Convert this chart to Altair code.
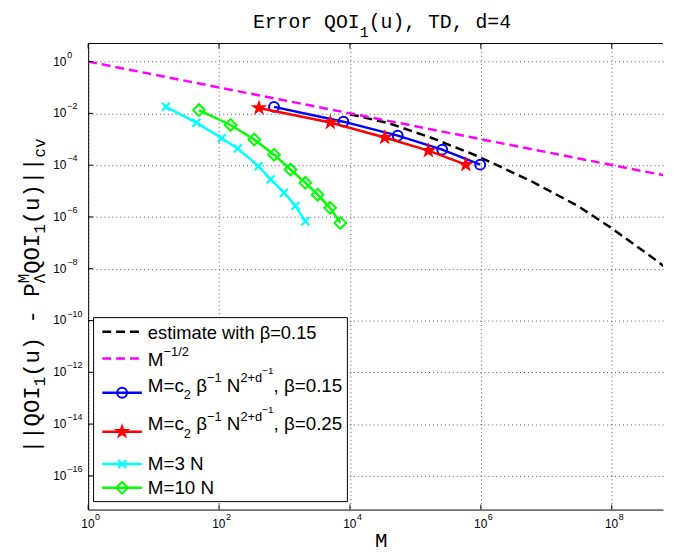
import altair as alt
import pandas as pd

# ---------------- data ----------------
est_M = [1.0e4, 4.0e4, 1.82e5, 9.1e5, 5.9e6, 3.0e7, 9.5e7, 4.8e8, 6.8e8]
est_E = [9.3e-3, 4.1e-3, 1.1e-3, 2.19e-4, 2.4e-5, 2.7e-6, 4.0e-7, 2.1e-8, 1.05e-8]
ref_M = [1.0, 6.8e8]
ref_E = [1.0, 3.9e-5]
b15_M = [692, 7940, 53700, 257000, 977000]
b15_E = [1.78e-2, 4.79e-3, 1.38e-3, 3.98e-4, 1.05e-4]
b25_M = [407, 5010, 33900, 158000, 589000]
b25_E = [1.62e-2, 4.47e-3, 1.17e-3, 3.63e-4, 1.05e-4]
m3_M = [15.4, 45.2, 110, 193, 401, 615, 982, 1469, 2080]
m3_E = [1.79e-2, 4.38e-3, 1.10e-3, 4.43e-4, 9.06e-5, 2.81e-5, 8.65e-6, 2.68e-6, 6.85e-7]
m10_M = [49.2, 150, 345, 692, 1233, 2080, 3206, 4966, 7129]
m10_E = [1.34e-2, 3.57e-3, 9.8e-4, 2.54e-4, 6.79e-5, 2.08e-5, 7.26e-6, 2.25e-6, 5.9e-7]

x_ticks = [1e0, 1e2, 1e4, 1e6, 1e8]
x_exps = ["0", "2", "4", "6", "8"]
y_ticks = [1e0, 1e-2, 1e-4, 1e-6, 1e-8, 1e-10, 1e-12, 1e-14, 1e-16]
y_exps = ["0", "\u22122", "\u22124", "\u22126", "\u22128", "\u221210", "\u221212", "\u221214", "\u221216"]

# ---------------- layout ----------------
W, H = 581, 471
X_DOM = [1.0, 6.07e8]
Y_DOM = [5e-18, 5.0]
MONO = "Liberation Mono"
SANS = "Liberation Sans"

xscale = alt.Scale(type="log", domain=X_DOM, nice=False)
yscale = alt.Scale(type="log", domain=Y_DOM, nice=False)
gkw = dict(labels=False, ticks=False, title=None, grid=True, gridDash=[1, 3],
           gridColor="#555555", gridWidth=1, domain=True, domainColor="black",
           domainWidth=1)
xaxis = alt.Axis(values=x_ticks, **gkw)
yaxis = alt.Axis(values=y_ticks, **gkw)


def X(f="M"):
    return alt.X(f"{f}:Q", scale=xscale, axis=xaxis)


def Y(f="E"):
    return alt.Y(f"{f}:Q", scale=yscale, axis=yaxis)


PX = alt.X("px:Q", scale=None, axis=None)
PY = alt.Y("py:Q", scale=None, axis=None)
one = pd.DataFrame({"a": [0]})

STAR = ("M0,-1L0.2245,-0.309L0.951,-0.309L0.363,0.118L0.588,0.809L0,0.382"
        "L-0.588,0.809L-0.363,0.118L-0.951,-0.309L-0.2245,-0.309Z")
XSHAPE = "M-1,-1L1,1M-1,1L1,-1"
STAR_SIZE = 300


def sdf(m, e):
    return pd.DataFrame({"M": m, "E": e})


layers = []
# series lines
layers.append(alt.Chart(sdf(est_M, est_E)).mark_line(color="black", strokeWidth=2.5, strokeDash=[9, 5], clip=True).encode(x=X(), y=Y()))
layers.append(alt.Chart(sdf(ref_M, ref_E)).mark_line(color="#ff00ff", strokeWidth=2.5, strokeDash=[9, 5], clip=True).encode(x=X(), y=Y()))
layers.append(alt.Chart(sdf(b15_M, b15_E)).mark_line(color="#0000ff", strokeWidth=2.5).encode(x=X(), y=Y()))
layers.append(alt.Chart(sdf(b15_M, b15_E)).mark_point(shape="circle", size=100, filled=False, color="#0000ff", strokeWidth=2, opacity=1).encode(x=X(), y=Y()))
layers.append(alt.Chart(sdf(b25_M, b25_E)).mark_line(color="#ff0000", strokeWidth=2.5).encode(x=X(), y=Y()))
layers.append(alt.Chart(sdf(b25_M, b25_E)).mark_point(shape=STAR, size=STAR_SIZE, filled=True, color="#ff0000", opacity=1).encode(x=X(), y=Y()))
layers.append(alt.Chart(sdf(m3_M, m3_E)).mark_line(color="#00ffff", strokeWidth=2.5).encode(x=X(), y=Y()))
layers.append(alt.Chart(sdf(m3_M, m3_E)).mark_point(shape=XSHAPE, size=64, filled=False, color="#00ffff", strokeWidth=2.2, opacity=1).encode(x=X(), y=Y()))
layers.append(alt.Chart(sdf(m10_M, m10_E)).mark_line(color="#00ff00", strokeWidth=2.5).encode(x=X(), y=Y()))
layers.append(alt.Chart(sdf(m10_M, m10_E)).mark_point(shape="diamond", size=140, filled=False, color="#00ff00", strokeWidth=2, opacity=1).encode(x=X(), y=Y()))

# frame and inward ticks
layers.append(alt.Chart(one).mark_rule(color="black", strokeWidth=1).encode(x=alt.value(0), x2=alt.value(W), y=alt.value(0)))
ytk = pd.DataFrame({"t": y_ticks, "e": y_exps})
xtk = pd.DataFrame({"t": x_ticks, "e": x_exps})
layers.append(alt.Chart(ytk).mark_rule(color="black", strokeWidth=1).encode(y=Y("t"), x=alt.value(0), x2=alt.value(5)))
layers.append(alt.Chart(xtk).mark_rule(color="black", strokeWidth=1).encode(x=X("t"), y=alt.value(H), y2=alt.value(H - 5)))
layers.append(alt.Chart(xtk).mark_rule(color="black", strokeWidth=1).encode(x=X("t"), y=alt.value(0), y2=alt.value(5)))

# tick labels 10^k
layers.append(alt.Chart(xtk).mark_text(font=SANS, fontSize=12, align="right", baseline="middle", dx=6.5).encode(x=X("t"), y=alt.value(486), text=alt.value("10")))
layers.append(alt.Chart(xtk).mark_text(font=SANS, fontSize=9, align="left", baseline="middle", dx=7).encode(x=X("t"), y=alt.value(479), text="e:N"))
layers.append(alt.Chart(ytk).mark_text(font=SANS, fontSize=12, align="right", baseline="middle").encode(y=Y("t"), x=alt.value(-22), text=alt.value("10")))
layers.append(alt.Chart(ytk).mark_text(font=SANS, fontSize=9, align="left", baseline="middle", dy=-7).encode(y=Y("t"), x=alt.value(-21), text="e:N"))

# legend box
LX0, LX1, LY0, LY1 = 5.5, 262, 277, 463
layers.append(alt.Chart(one).mark_rect(fill="white", stroke="black", strokeWidth=1).encode(x=alt.value(LX0), x2=alt.value(LX1), y=alt.value(LY0), y2=alt.value(LY1)))
SX0, SX1, SXM = 14.3, 54.3, 34.3
line_y = [291.3, 318.3, 353, 392.3, 425, 449]
text_y = [298.6, 325.7, 351.7, 391, 431.3, 455.6]
dl = pd.DataFrame({"x1": [SX0] * 2, "x2": [SX1] * 2, "py": line_y[:2], "c": ["black", "#ff00ff"]})
sl = pd.DataFrame({"x1": [SX0] * 4, "x2": [SX1] * 4, "py": line_y[2:], "c": ["#0000ff", "#ff0000", "#00ffff", "#00ff00"]})
layers.append(alt.Chart(dl).mark_rule(strokeWidth=2.5, strokeDash=[9, 5]).encode(x=alt.X("x1:Q", scale=None, axis=None), x2="x2:Q", y=PY, color=alt.Color("c:N", scale=None)))
layers.append(alt.Chart(sl).mark_rule(strokeWidth=2.5).encode(x=alt.X("x1:Q", scale=None, axis=None), x2="x2:Q", y=PY, color=alt.Color("c:N", scale=None)))


def pt(y):
    return pd.DataFrame({"px": [SXM], "py": [y]})


layers.append(alt.Chart(pt(line_y[2])).mark_point(shape="circle", size=100, filled=False, color="#0000ff", strokeWidth=2, opacity=1).encode(x=PX, y=PY))
layers.append(alt.Chart(pt(line_y[3])).mark_point(shape=STAR, size=STAR_SIZE, filled=True, color="#ff0000", opacity=1).encode(x=PX, y=PY))
layers.append(alt.Chart(pt(line_y[4])).mark_point(shape=XSHAPE, size=64, filled=False, color="#00ffff", strokeWidth=2.2, opacity=1).encode(x=PX, y=PY))
layers.append(alt.Chart(pt(line_y[5])).mark_point(shape="diamond", size=140, filled=False, color="#00ff00", strokeWidth=2, opacity=1).encode(x=PX, y=PY))

# legend text (rich text laid out piece by piece)
SW = {"M": .833, "=": .584, "c": .5, " ": .278, "\u03b2": .569, "\u2212": .584, "1": .556,
      "2": .556, "N": .722, "+": .584, "d": .556, ",": .278, "0": .556, ".": .278,
      "5": .556, "/": .278, "3": .556}
LM = 19
ROLE = {"m": (LM, 0), "sub": (13, 8), "sup": (13, -10), "ss": (10, -17.5)}


def tw(s, size):
    return sum(SW.get(ch, .556) for ch in s) * size


rows = []


def flow(x0, yb, pieces):
    x = x0
    for txt, role in pieces:
        size, dy = ROLE[role]
        lead = len(txt) - len(txt.lstrip(" "))
        rows.append({"px": x + tw(" " * lead, size), "py": yb + dy, "txt": txt.lstrip(" "), "sz": size})
        x += tw(txt, size)


TX = 60.3
rows.append({"px": TX, "py": text_y[0], "txt": "estimate with \u03b2=0.15", "sz": 18.5})
flow(TX, text_y[1], [("M", "m"), ("\u22121/2", "sup")])
for yb, b in [(text_y[2], "0.15"), (text_y[3], "0.25")]:
    flow(TX, yb, [("M=c", "m"), ("2", "sub"), (" \u03b2", "m"), ("\u22121", "sup"), (" N", "m"),
                  ("2+d", "sup"), ("\u22121", "ss"), (", \u03b2=" + b, "m")])
rows.append({"px": TX, "py": text_y[4], "txt": "M=3 N", "sz": LM})
rows.append({"px": TX, "py": text_y[5], "txt": "M=10 N", "sz": LM})
layers.append(alt.Chart(pd.DataFrame(rows)).mark_text(font=SANS, align="left", baseline="alphabetic", color="black").encode(
    x=PX, y=PY, text="txt:N", size=alt.Size("sz:Q", scale=None, legend=None)))

# title and x-axis title (monospace)
TS, TSS = 20, 15
trows = []
tx = 255.5 - 89
trows.append({"px": tx, "py": -16, "txt": "Error QOI", "sz": TS})
tx += 9 * 0.6 * TS
trows.append({"px": tx, "py": -6.5, "txt": "1", "sz": TSS})
tx += 0.6 * TSS
trows.append({"px": tx, "py": -16, "txt": "(u), TD, d=4", "sz": TS})
trows.append({"px": 290, "py": 509, "txt": "M", "sz": 21})
layers.append(alt.Chart(pd.DataFrame(trows)).mark_text(font=MONO, align="left", baseline="alphabetic", color="black").encode(
    x=PX, y=PY, text="txt:N", size=alt.Size("sz:Q", scale=None, legend=None)))

# rotated y-axis title
MS, SS = 22.5, 16
CW, SCW = 0.6 * MS, 0.6 * SS
BX_MAIN, BX_SUB, BX_SUP = -50, -44, -60
yrows = []
state = {"y": 414.0}


def ypiece(txt, bx, size, adv):
    yrows.append({"px": bx, "py": state["y"], "txt": txt, "sz": size})
    state["y"] -= adv


ypiece("||QOI", BX_MAIN, MS, 5 * CW)
ypiece("1", BX_SUB, SS, SCW)
ypiece("(u) - P", BX_MAIN, MS, 7 * CW)
yrows.append({"px": BX_SUP, "py": state["y"], "txt": "M", "sz": SS})
ypiece("\u039b", BX_SUB, SS, SCW)
ypiece("QOI", BX_MAIN, MS, 3 * CW)
ypiece("1", BX_SUB, SS, SCW)
ypiece("(u)||", BX_MAIN, MS, 5 * CW)
ypiece("cv", BX_SUB, SS, 2 * SCW)
layers.append(alt.Chart(pd.DataFrame(yrows)).mark_text(font=MONO, align="left", baseline="alphabetic", angle=270, color="black").encode(
    x=PX, y=PY, text="txt:N", size=alt.Size("sz:Q", scale=None, legend=None)))

chart = alt.layer(*layers).properties(
    width=W, height=H,
    padding={"left": 81, "top": 33, "right": 2, "bottom": 40},
    autosize=alt.AutoSizeParams(type="none"),
).configure_view(stroke=None)

chart.save("out.html", embed_options={"renderer": "svg", "actions": False})
